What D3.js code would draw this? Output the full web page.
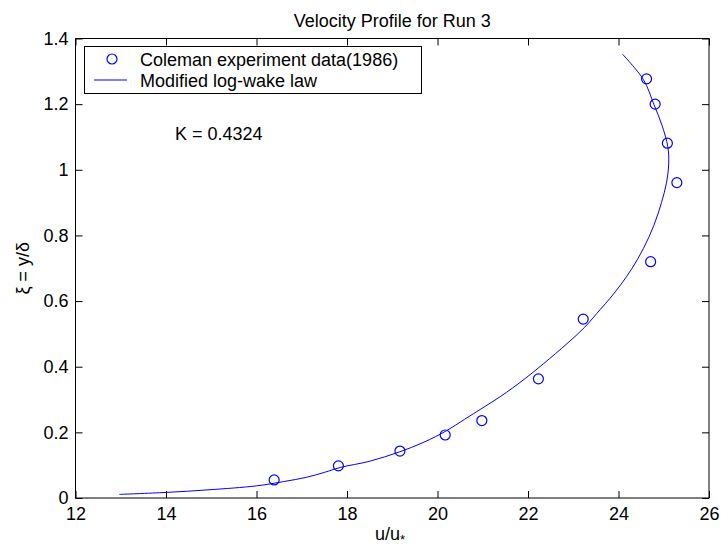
<!DOCTYPE html>
<html>
<head>
<meta charset="utf-8">
<script src="https://cdn.jsdelivr.net/npm/d3@7"></script>
<style>
  html, body { margin: 0; padding: 0; background: #fff; }
  svg text { font-family: Arial, "Liberation Sans", Helvetica, sans-serif; fill: #000; }
</style>
</head>
<body>
<svg id="chart" width="721" height="550"></svg>
<script>
// Coleman (1986) measurements, run 3
const measuredU = [16.39, 17.81, 19.17, 20.17, 20.98, 22.23, 23.22, 24.71, 25.29, 25.08, 24.81, 24.62];
const measuredXi = [0.055, 0.098, 0.143, 0.192, 0.236, 0.363, 0.545, 0.720, 0.961, 1.081, 1.200, 1.277];

// Modified log-wake law profile
const lawXi = [0.011, 0.017, 0.025, 0.037, 0.050, 0.063, 0.078, 0.093, 0.112, 0.140, 0.170, 0.205,
               0.240, 0.273, 0.310, 0.360, 0.410, 0.470, 0.520, 0.575, 0.608, 0.650, 0.700, 0.760,
               0.830, 0.900, 0.960, 1.020, 1.070, 1.136, 1.200, 1.275, 1.352];
const lawU = [12.97, 14.00, 14.95, 16.00, 16.60, 17.10, 17.50, 17.85, 18.50, 19.15, 19.70, 20.20,
              20.60, 20.98, 21.40, 21.90, 22.35, 22.86, 23.25, 23.60, 23.81, 24.05, 24.30, 24.55,
              24.78, 24.95, 25.06, 25.11, 25.09, 24.96, 24.78, 24.55, 24.09];

const xTicks = [12, 14, 16, 18, 20, 22, 24, 26];
const yTicks = [0, 0.2, 0.4, 0.6, 0.8, 1, 1.2, 1.4];

const titleText = "Velocity Profile for Run 3";
const legendLabels = ["Coleman experiment data(1986)", "Modified log-wake law"];
const noteText = "K = 0.4324";

const svg = d3.select("#chart");
const plotL = 75.5, plotR = 709, plotT = 38.5, plotB = 498;
const x = d3.scaleLinear().domain([12, 26]).range([plotL, plotR]);
const y = d3.scaleLinear().domain([0, 1.4]).range([plotB, plotT]);
const blue = "#0000ff";
const fs = 18;

// axes with inward ticks on all four sides
function styleAxis(g) {
  g.select(".domain").remove();
  g.selectAll(".tick line").attr("stroke", "#000").attr("stroke-width", 1);
  g.selectAll(".tick text").attr("font-size", fs).attr("fill", "#000")
    .attr("font-family", "Arial, 'Liberation Sans', sans-serif");
}
svg.append("g").attr("transform", `translate(0,${plotB})`)
  .call(d3.axisBottom(x).tickValues(xTicks).tickSizeInner(-7).tickSizeOuter(0).tickPadding(9).tickFormat(d3.format("d")))
  .call(styleAxis);
svg.append("g").attr("transform", `translate(0,${plotT})`)
  .call(d3.axisTop(x).tickValues(xTicks).tickSizeInner(-7).tickSizeOuter(0).tickFormat(""))
  .call(styleAxis);
svg.append("g").attr("transform", `translate(${plotL},0)`)
  .call(d3.axisLeft(y).tickValues(yTicks).tickSizeInner(-7).tickSizeOuter(0).tickPadding(7).tickFormat(d => String(+d.toFixed(1))))
  .call(styleAxis);
svg.append("g").attr("transform", `translate(${plotR},0)`)
  .call(d3.axisRight(y).tickValues(yTicks).tickSizeInner(-7).tickSizeOuter(0).tickFormat(""))
  .call(styleAxis);

// plot box
svg.append("rect")
  .attr("x", plotL).attr("y", plotT)
  .attr("width", plotR - plotL).attr("height", plotB - plotT)
  .attr("fill", "none").attr("stroke", "#000").attr("stroke-width", 1);

// model curve
const curveData = lawU.map((u, i) => [u, lawXi[i]]);
svg.append("path")
  .datum(curveData)
  .attr("d", d3.line().x(d => x(d[0])).y(d => y(d[1])).curve(d3.curveCatmullRom))
  .attr("fill", "none").attr("stroke", blue).attr("stroke-width", 1);

// measured points
svg.append("g").selectAll("circle")
  .data(measuredU.map((u, i) => [u, measuredXi[i]]))
  .join("circle")
  .attr("cx", d => x(d[0])).attr("cy", d => y(d[1]))
  .attr("r", 5).attr("fill", "none").attr("stroke", blue).attr("stroke-width", 1.2);

// title and axis labels
svg.append("text").attr("x", (plotL + plotR) / 2).attr("y", 27)
  .attr("text-anchor", "middle").attr("font-size", fs).text(titleText);

const xl = svg.append("text").attr("x", 390).attr("y", 540)
  .attr("text-anchor", "middle").attr("font-size", fs);
xl.append("tspan").text("u/u");
xl.append("tspan").attr("font-size", 13).attr("dy", 4).text("*");

svg.append("text")
  .attr("transform", `translate(29,${(plotT + plotB) / 2}) rotate(-90)`)
  .attr("text-anchor", "middle").attr("font-size", fs).text("ξ = y/δ");

// annotation
svg.append("text").attr("x", 175).attr("y", 140).attr("font-size", fs).text(noteText);

// legend
const lg = svg.append("g");
lg.append("rect").attr("x", 84.5).attr("y", 46.5).attr("width", 337).attr("height", 47)
  .attr("fill", "#fff").attr("stroke", "#000").attr("stroke-width", 1);
lg.append("circle").attr("cx", 112).attr("cy", 59).attr("r", 5)
  .attr("fill", "none").attr("stroke", blue).attr("stroke-width", 1.2);
lg.append("line").attr("x1", 94).attr("x2", 127).attr("y1", 80).attr("y2", 80)
  .attr("stroke", blue).attr("stroke-width", 1);
lg.selectAll("text.lab").data(legendLabels).join("text")
  .attr("class", "lab")
  .attr("x", 140).attr("y", (d, i) => 65.5 + i * 21)
  .attr("font-size", fs).text(d => d);
</script>
</body>
</html>
